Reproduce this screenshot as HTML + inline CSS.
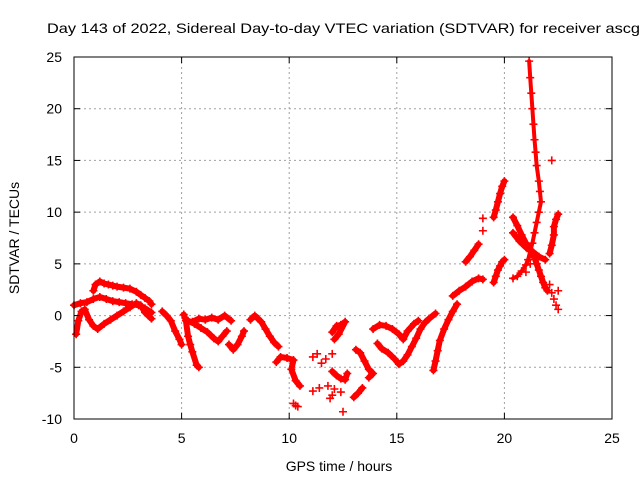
<!DOCTYPE html>
<html><head><meta charset="utf-8"><style>
body{margin:0;background:#fff;}
svg{display:block;font-family:"Liberation Sans",sans-serif;}
</style></head><body>
<svg id="chart" width="640" height="480" viewBox="0 0 640 480" xmlns="http://www.w3.org/2000/svg">
<rect width="640" height="480" fill="#fff"/>
<text x="47" y="33" font-size="14" textLength="593" lengthAdjust="spacingAndGlyphs">Day 143 of 2022, Sidereal Day-to-day VTEC variation (SDTVAR) for receiver ascg</text>
<g id="grid"></g>
<g id="series"></g>
<rect x="74" y="57" width="538" height="362" fill="none" stroke="#000" stroke-width="1"/>
<g id="axes"></g>
<text x="339" y="471" font-size="14" text-anchor="middle">GPS time / hours</text>
<text transform="translate(19,238) rotate(-90)" font-size="14" text-anchor="middle">SDTVAR / TECUs</text>
</svg>
<script>
const xTicks=[0,5,10,15,20,25];
const yTicks=[-10,-5,0,5,10,15,20,25];
const xTickLabels=["0","5","10","15","20","25"];
const yTickLabels=["-10","-5","0","5","10","15","20","25"];
// each series: [time(h), SDTVAR]
const arcUpper=[[0.9,2.4],[1.0,3.0],[1.2,3.3],[1.4,3.1],[1.6,3.0],[1.8,2.9],[2.0,2.8],[2.3,2.7],[2.6,2.6],[2.9,2.3],[3.1,2.0],[3.3,1.7],[3.5,1.4],[3.6,1.1]];
const arcMiddle=[[0.0,1.0],[0.3,1.2],[0.6,1.3],[0.9,1.6],[1.2,1.8],[1.5,1.6],[1.8,1.4],[2.1,1.3],[2.4,1.2],[2.7,1.1],[3.0,1.0],[3.3,0.7],[3.6,0.3]];
const arcLower=[[0.1,-1.8],[0.2,-0.5],[0.35,0.4],[0.5,0.6],[0.7,-0.4],[0.9,-1.0],[1.1,-1.3],[1.4,-0.8],[1.7,-0.4],[2.0,0.0],[2.3,0.4],[2.6,0.8],[2.9,1.2],[3.1,1.0],[3.3,0.3],[3.6,-0.3]];
const segD=[[4.1,0.4],[4.3,0.0],[4.5,-0.5],[4.7,-1.5],[4.9,-2.3],[5.0,-2.8]];
const segE=[[5.1,0.1],[5.2,-0.5],[5.3,-2.0],[5.4,-2.8],[5.5,-3.5],[5.7,-4.8],[5.8,-5.0]];
const segF=[[5.3,-0.5],[5.6,-0.8],[5.9,-1.2],[6.2,-1.6],[6.5,-2.2],[6.7,-2.5],[6.9,-2.0],[7.1,-1.5]];
const segG=[[5.5,-0.6],[5.8,-0.3],[6.1,-0.4],[6.4,-0.2],[6.7,-0.4],[7.0,0.0],[7.3,-0.5]];
const segH=[[7.2,-2.8],[7.4,-3.3],[7.6,-2.8],[7.8,-2.0],[7.9,-1.5]];
const segI=[[8.2,-0.4],[8.4,0.0],[8.7,-0.6],[8.9,-1.3],[9.1,-2.0],[9.3,-2.6],[9.5,-3.0]];
const segJ=[[9.4,-4.5],[9.6,-4.0],[9.9,-4.1],[10.2,-4.3],[10.1,-5.2],[10.3,-6.3],[10.5,-6.8]];
const segJ2=[[10.2,-8.5],[10.3,-8.7],[10.4,-8.8]];
const scatter11=[[11.1,-4.0],[11.3,-3.7],[11.5,-4.6],[11.1,-7.3],[11.4,-7.0],[11.8,-6.8],[12.0,-7.7],[11.9,-8.0],[12.1,-7.1],[12.4,-7.4],[12.5,-9.3],[11.7,-4.2],[12.0,-3.7]];
const segK=[[12.0,-1.6],[12.2,-1.0],[12.4,-0.9],[12.6,-0.6],[12.3,-1.8],[12.1,-2.3]];
const segL=[[12.0,-5.4],[12.2,-5.8],[12.4,-6.1],[12.6,-6.2],[12.7,-5.6]];
const segM=[[13.1,-3.3],[13.3,-3.6],[13.5,-4.4],[13.7,-5.2],[13.9,-5.6],[13.7,-6.0]];
const segN=[[13.0,-7.9],[13.2,-7.5],[13.4,-7.0]];
const segO=[[14.1,-2.7],[14.3,-3.2],[14.6,-3.6],[14.9,-4.2],[15.1,-4.7],[15.3,-4.4],[15.5,-3.8],[15.7,-3.0],[15.9,-2.2],[16.1,-1.3],[16.3,-0.7],[16.5,-0.3],[16.8,0.2]];
const segP=[[13.9,-1.3],[14.2,-0.9],[14.5,-1.0],[14.8,-1.3],[15.1,-1.8],[15.3,-2.3],[15.5,-1.5],[15.8,-0.8],[16.0,-0.5]];
const segQ=[[16.7,-5.3],[16.8,-4.4],[16.9,-3.4],[17.0,-2.4],[17.2,-1.3],[17.4,-0.4],[17.6,0.4],[17.8,1.1]];
const segR=[[17.6,1.9],[17.9,2.4],[18.2,2.8],[18.5,3.3],[18.8,3.6],[19.0,3.5]];
const segS=[[18.2,5.2],[18.4,5.7],[18.6,6.3],[18.8,6.9]];
const segT=[[19.5,9.5],[19.6,10.2],[19.7,11.0],[19.8,11.8],[19.9,12.5],[20.0,13.0]];
const segU=[[19.5,3.2],[19.6,3.8],[19.7,4.4],[19.8,4.8],[19.9,5.2],[20.0,5.4]];
const crossesV=[[19.0,9.4],[19.0,8.2],[22.2,15.0],[21.2,5.0],[21.0,4.2]];
const segTall=[[21.15,24.6],[21.2,23.0],[21.25,21.5],[21.3,20.0],[21.35,18.5],[21.4,17.0],[21.45,15.8],[21.5,14.5],[21.6,13.0],[21.65,12.0],[21.7,11.0],[21.6,10.0],[21.5,9.0],[21.4,8.0],[21.3,7.0],[21.2,6.2],[21.1,5.4],[21.0,4.9],[20.8,4.3],[20.6,3.8],[20.4,3.6]];
const segX1=[[20.4,9.5],[20.6,8.7],[20.8,7.8],[21.0,7.0],[21.2,6.4],[21.4,5.6],[21.5,5.0],[21.6,4.4],[21.7,3.8],[21.8,3.2],[21.9,2.7],[22.0,2.4]];
const segX2=[[20.4,8.0],[20.7,7.2],[21.0,6.6],[21.3,6.2],[21.6,5.7],[21.9,5.4]];
const segW=[[22.1,6.0],[22.2,6.8],[22.3,7.8],[22.3,8.6],[22.4,9.3],[22.5,9.8]];
const segZ=[[22.1,3.0],[22.2,2.2],[22.3,1.6],[22.4,1.0],[22.5,0.6],[22.5,2.4]];
const allSeries=[arcUpper,arcMiddle,arcLower,segD,segE,segF,segG,segH,segI,segJ,segJ2,scatter11,segK,segL,segM,segN,segO,segP,segQ,segR,segS,segT,segU,crossesV,segTall,segX1,segX2,segW,segZ];
const connected=[true,true,true,true,true,true,true,true,true,true,false,false,true,true,true,true,true,true,true,true,true,true,true,false,true,true,true,true,false];

const X0=74,X1=612,Y0=419,Y1=57;
const xs=t=>X0+(t-0)/(25-0)*(X1-X0);
const ys=v=>Y0-(v+10)/(35)*(Y0-Y1);
const NS="http://www.w3.org/2000/svg";
const grid=document.getElementById('grid'),axes=document.getElementById('axes'),ser=document.getElementById('series');
function mk(tag,attrs,parent){const e=document.createElementNS(NS,tag);for(const k in attrs)e.setAttribute(k,attrs[k]);parent.appendChild(e);return e;}
xTicks.forEach((t,i)=>{
  const x=xs(t);
  if(i>0&&i<xTicks.length-1){const g=mk('line',{x1:x,x2:x,y1:Y1,y2:Y0,stroke:'#a0a0a0','stroke-dasharray':'2,3'},grid);
  
  }
  const a=mk('line',{x1:x,x2:x,y1:Y0,y2:Y0-6,stroke:'#000'},axes);
  
  
  const b=mk('line',{x1:x,x2:x,y1:Y1,y2:Y1+6,stroke:'#000'},axes);
  
  
  const l=mk('text',{x:x,y:443,'font-size':14,'text-anchor':'middle'},axes);
  l.textContent=xTickLabels[i];
  
  
});
yTicks.forEach((v,i)=>{
  const y=ys(v);
  if(i>0&&i<yTicks.length-1){const g=mk('line',{x1:X0,x2:X1,y1:y,y2:y,stroke:'#a0a0a0','stroke-dasharray':'2,3'},grid);
  
  }
  const a=mk('line',{x1:X0,x2:X0+6,y1:y,y2:y,stroke:'#000'},axes);
  
  
  const b=mk('line',{x1:X1,x2:X1-6,y1:y,y2:y,stroke:'#000'},axes);
  
  
  const l=mk('text',{x:62,y:y+5,'font-size':14,'text-anchor':'end'},axes);
  l.textContent=yTickLabels[i];
  
  
});
allSeries.forEach((s,si)=>{
  if(connected[si]){
    const pl=mk('polyline',{points:s.map(p=>xs(p[0])+','+ys(p[1])).join(' '),fill:'none',stroke:'#f00','stroke-width':(s===segTall?4:6),'stroke-linejoin':'round','stroke-linecap':'round'},ser);
    
    
  }
  s.forEach(p=>{
    const x=xs(p[0]),y=ys(p[1]);
    const m=mk('path',{d:`M${x-4},${y}H${x+4}M${x},${y-4}V${y+4}`,stroke:'#f00','stroke-width':1.6,fill:'none'},ser);
    
    
  });
});
</script>
</body></html>
